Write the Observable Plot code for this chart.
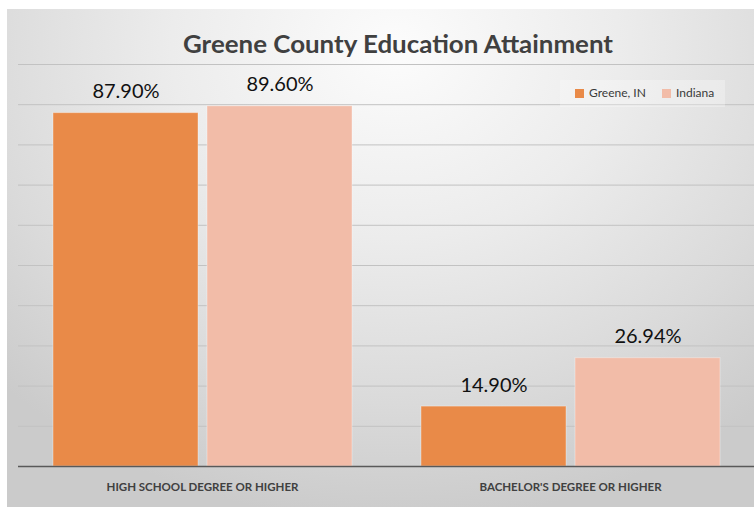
<!DOCTYPE html>
<html>
<head>
<meta charset="utf-8">
<script src="https://cdn.jsdelivr.net/npm/d3@7"></script>
<script src="https://cdn.jsdelivr.net/npm/@observablehq/plot@0.6"></script>
<style>
  html, body { margin: 0; padding: 0; background: #ffffff; }
  #chart {
    position: absolute; left: 7px; top: 9px; width: 747px; height: 498px; overflow: hidden;
    background: radial-gradient(ellipse 75% 95% at 52% 8%, #fcfcfc 0%, #ececec 40%, #dadada 75%, #cbcbcb 100%);
    font-family: Lato, "Open Sans", sans-serif;
  }
  #chart svg.plot { position: absolute; left: 0; top: 0; }
  #title { position: absolute; left: 0; top: 0; }
  #legend {
    position: absolute; left: 553px; top: 71px; width: 165px; height: 27px;
    background: rgba(255,255,255,0.28);
    font-size: 12px; color: #3a3a3a;
  }
  .sw { position: absolute; width: 9px; height: 9px; top: 9px; }
  .lt { position: absolute; top: 6px; line-height: 14px; white-space: nowrap; }
  [aria-label^="fx-axis"] text { font-weight: 700; font-size: 11.5px; fill: #404040; }
</style>
</head>
<body>
<div id="chart"></div>
<script>
const categories = ["HIGH SCHOOL DEGREE OR HIGHER", "BACHELOR'S DEGREE OR HIGHER"];
const series = ["Greene, IN", "Indiana"];
const seriesColors = ["#E98A48", "#F2BCA8"];
const greeneValues = [87.9, 14.9];
const indianaValues = [89.6, 26.94];
const gridTicks = [10, 20, 30, 40, 50, 60, 70, 80, 90, 100];
const titleText = "Greene County Education Attainment";

const rows = categories.flatMap((c, i) => [
  {category: c, series: series[0], value: greeneValues[i]},
  {category: c, series: series[1], value: indianaValues[i]}
]);

const chart = document.getElementById("chart");

const plot = Plot.plot({
  width: 747,
  height: 498,
  marginLeft: 11,
  marginRight: 0,
  marginTop: 55,
  marginBottom: 41,
  style: {background: "transparent", fontFamily: "Lato, 'Open Sans', sans-serif", overflow: "visible"},
  fx: {domain: categories, padding: 0, label: null, tickSize: 0, tickPadding: 16},
  x: {domain: series, paddingInner: 9 / 154, paddingOuter: 0.224, axis: null},
  y: {domain: [0, 100], axis: null},
  color: {domain: series, range: seriesColors},
  marks: [
    Plot.ruleY(gridTicks, {stroke: "#c2c2c2", strokeWidth: 1}),
    Plot.barY(rows, {fx: "category", x: "series", y: "value", fill: "series", stroke: "#ffffff", strokeOpacity: 0.35, strokeWidth: 1}),
    Plot.text(rows, {fx: "category", x: "series", y: "value", text: d => d.value.toFixed(2) + "%", lineAnchor: "bottom", dy: -15, fontSize: 20, fill: "#111111"}),
    Plot.ruleY([0], {stroke: "#595959", strokeWidth: 1.5})
  ]
});
plot.classList.add("plot");
chart.appendChild(plot);

// Title
const ns = "http://www.w3.org/2000/svg";
const tsvg = document.createElementNS(ns, "svg");
tsvg.setAttribute("id", "title");
tsvg.setAttribute("width", 747);
tsvg.setAttribute("height", 55);
const tt = document.createElementNS(ns, "text");
tt.setAttribute("x", 391);
tt.setAttribute("y", 44);
tt.setAttribute("text-anchor", "middle");
tt.setAttribute("font-family", "Lato, 'Open Sans', sans-serif");
tt.setAttribute("font-weight", "700");
tt.setAttribute("font-size", "24");
tt.setAttribute("fill", "#404040");
tt.setAttribute("textLength", "430");
tt.setAttribute("lengthAdjust", "spacingAndGlyphs");
tt.textContent = titleText;
tsvg.appendChild(tt);
chart.appendChild(tsvg);

// Legend
const legend = document.createElement("div");
legend.id = "legend";
const legendPos = [{sw: 15, tx: 29}, {sw: 102, tx: 116}];
series.forEach((s, i) => {
  const sw = document.createElement("div");
  sw.className = "sw";
  sw.style.left = legendPos[i].sw + "px";
  sw.style.background = seriesColors[i];
  legend.appendChild(sw);
  const lt = document.createElement("div");
  lt.className = "lt";
  lt.style.left = legendPos[i].tx + "px";
  lt.textContent = s;
  legend.appendChild(lt);
});
chart.appendChild(legend);
</script>
</body>
</html>
